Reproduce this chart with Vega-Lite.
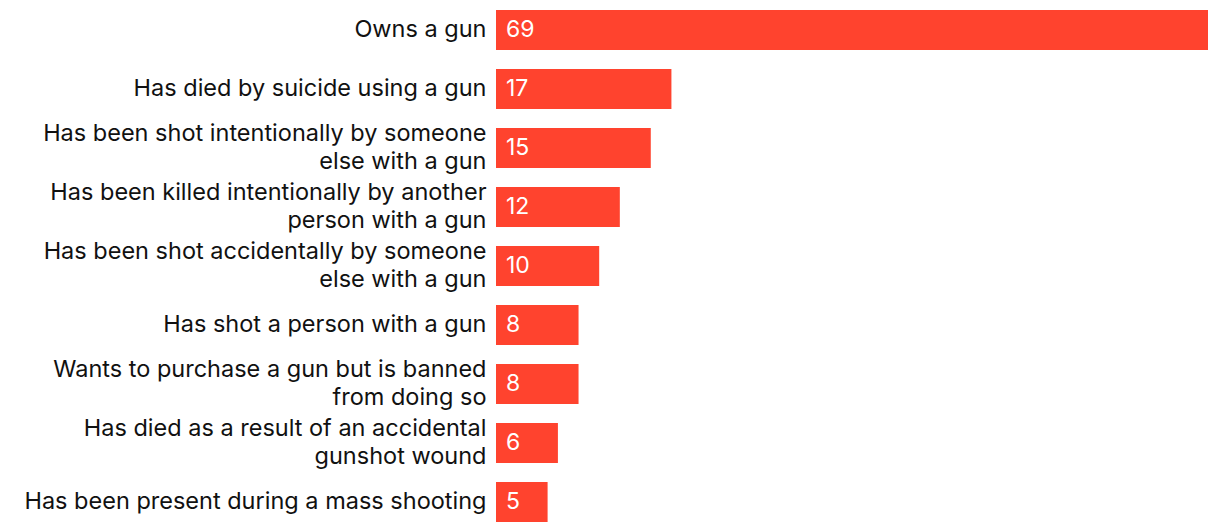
{
  "$schema": "https://vega.github.io/schema/vega-lite/v6.json",
  "autosize": "none",
  "width": 712,
  "height": 532,
  "padding": {"left": 496, "top": 0, "right": 12, "bottom": 0},
  "background": "white",
  "config": {"view": {"stroke": null}, "font": "Inter"},
  "data": {
    "values": [
      {"label": "Owns a gun", "value": 69},
      {"label": "Has died by suicide using a gun", "value": 17},
      {"label": "Has been shot intentionally by someone|else with a gun", "value": 15},
      {"label": "Has been killed intentionally by another|person with a gun", "value": 12},
      {"label": "Has been shot accidentally by someone|else with a gun", "value": 10},
      {"label": "Has shot a person with a gun", "value": 8},
      {"label": "Wants to purchase a gun but is banned|from doing so", "value": 8},
      {"label": "Has died as a result of an accidental|gunshot wound", "value": 6},
      {"label": "Has been present during a mass shooting", "value": 5}
    ]
  },
  "encoding": {
    "y": {
      "field": "label", "type": "nominal", "sort": null,
      "scale": {"paddingInner": 0.322, "paddingOuter": 0.169},
      "axis": {
        "title": null, "domain": false, "ticks": false,
        "labelPadding": 10, "labelFontSize": 23.5, "labelColor": "#111111",
        "labelFont": "Inter", "labelLineHeight": 28, "labelLimit": 600,
        "labelBaseline": "middle",
        "labelOffset": {"condition": {"test": "indexof(datum.label, '|') >= 0", "value": -14}, "value": 0},
        "labelExpr": "split(datum.label, '|')"
      }
    }
  },
  "layer": [
    {
      "mark": {"type": "bar", "color": "#FF432E"},
      "encoding": {
        "x": {"field": "value", "type": "quantitative", "scale": {"domain": [0, 69], "nice": false}, "axis": null}
      }
    },
    {
      "mark": {"type": "text", "align": "left", "baseline": "middle", "dx": 10, "fontSize": 23, "color": "white", "font": "Inter"},
      "encoding": {
        "x": {"datum": 0, "type": "quantitative"},
        "text": {"field": "value", "type": "quantitative"}
      }
    }
  ]
}
